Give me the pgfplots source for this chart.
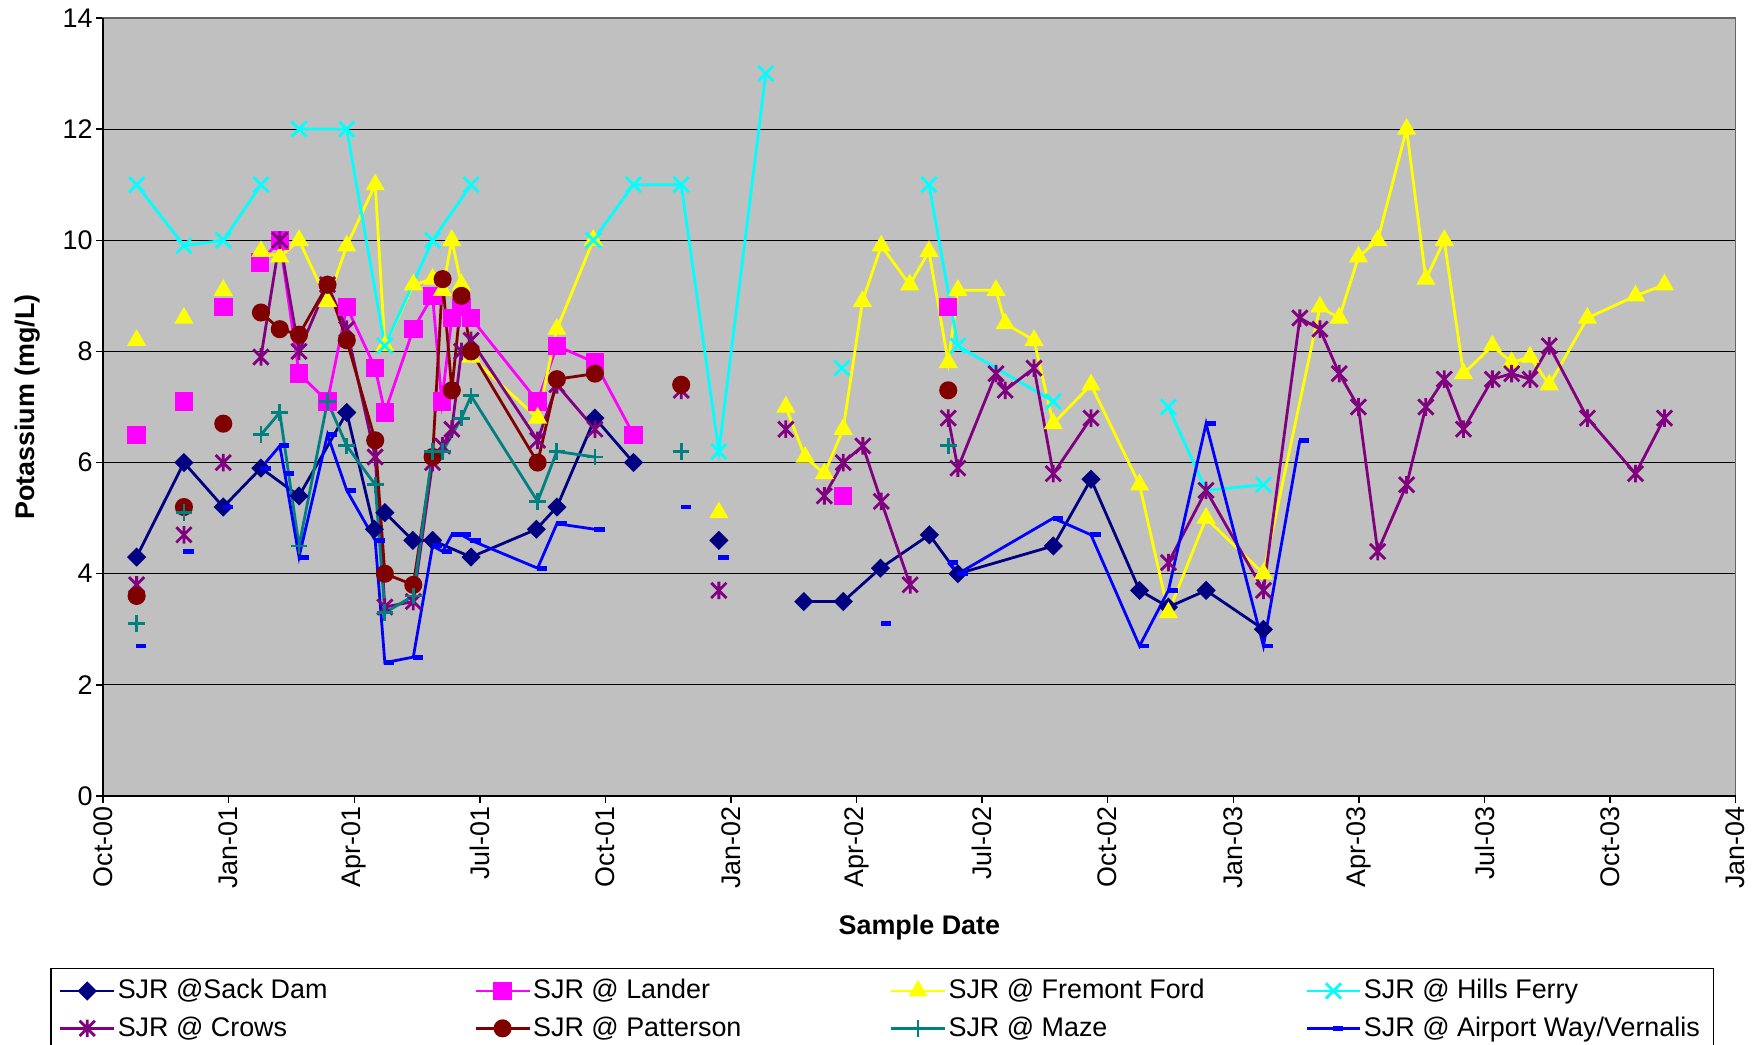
\documentclass[border=0pt]{standalone}
\usepackage{fontspec}
\setmainfont{Liberation Sans}
\usepackage{pgfplots}
\pgfplotsset{compat=1.18}

\definecolor{bggray}{RGB}{192,192,192}
\definecolor{sack}{RGB}{0,0,128}
\definecolor{lander}{RGB}{255,0,255}
\definecolor{fremont}{RGB}{255,255,0}
\definecolor{hills}{RGB}{0,255,255}
\definecolor{crows}{RGB}{128,0,128}
\definecolor{patterson}{RGB}{128,0,0}
\definecolor{maze}{RGB}{0,128,128}
\definecolor{airport}{RGB}{0,0,255}

% Excel style asterisk: an x with a vertical bar
\pgfdeclareplotmark{xast}{%
  \pgfpathmoveto{\pgfqpoint{-\pgfplotmarksize}{-\pgfplotmarksize}}%
  \pgfpathlineto{\pgfqpoint{\pgfplotmarksize}{\pgfplotmarksize}}%
  \pgfpathmoveto{\pgfqpoint{-\pgfplotmarksize}{\pgfplotmarksize}}%
  \pgfpathlineto{\pgfqpoint{\pgfplotmarksize}{-\pgfplotmarksize}}%
  \pgfpathmoveto{\pgfqpoint{0pt}{-1.15\pgfplotmarksize}}%
  \pgfpathlineto{\pgfqpoint{0pt}{1.15\pgfplotmarksize}}%
  \pgfusepathqstroke}
% short bar to the right of the point
\pgfdeclareplotmark{rdash}{%
  \pgfpathrectangle{\pgfqpoint{-0.3pt}{-1.1pt}}{\pgfqpoint{4.6pt}{2.2pt}}%
  \pgfusepathqfill}

\newcommand{\LE}[1]{\makebox[151.5pt][l]{#1}}

\begin{document}
\begin{tikzpicture}[font=\fontsize{12}{14}\selectfont]
\begin{axis}[name=ax,
  scale only axis, width=728pt, height=347pt,
  xmin=0, xmax=39, ymin=0, ymax=14,
  xtick={0,3,...,39},
  xticklabels={Oct-00,Jan-01,Apr-01,Jul-01,Oct-01,Jan-02,Apr-02,Jul-02,Oct-02,Jan-03,Apr-03,Jul-03,Oct-03,Jan-04},
  ytick={0,2,...,14},
  xticklabel style={rotate=90, anchor=east, inner sep=1.5pt},
  yticklabel style={inner sep=1.5pt},
  /pgf/number format/assume math mode=true,
  tick align=outside, tick pos=left, major tick length=3pt,
  tick style={black, line width=0.6pt},
  axis background/.style={fill=bggray},
  ymajorgrids, grid style={black, line width=0.5pt},
  axis line style={draw=gray!80!black, line width=0.8pt},
  xlabel={\bfseries Sample Date}, ylabel={\bfseries Potassium (mg/L)},
  every axis x label/.style={at={(axis description cs:0.5,-0.1685)}, anchor=center},
  every axis y label/.style={at={(axis description cs:-0.0465,0.5)}, rotate=90, anchor=center},
  unbounded coords=jump,
  every axis plot/.append style={line width=1.25pt},
  legend columns=4,
  legend style={at={(axis description cs:-0.0323,-0.2205)}, anchor=north west,
    draw=black, line width=0.6pt, fill=white, inner xsep=3.5pt, inner ysep=4pt,
    nodes={inner sep=1pt}, row sep=4.5pt,
    /tikz/every even column/.append style={column sep=6.5pt}},
  legend image code/.code={\draw[mark repeat=2,mark phase=2,#1] plot coordinates {(0pt,0pt) (12pt,0pt) (24pt,0pt)};},
  after end axis/.code={\draw[black, line width=0.8pt] (rel axis cs:0,1) -- (rel axis cs:0,0) -- (rel axis cs:1,0);},
]
% SJR @Sack Dam
\addplot[color=sack, mark=square*, mark size=2.4pt, mark options={rotate=45}] coordinates {
(0.80,4.3)(1.93,6.0)(2.87,5.2)(3.77,5.9)(4.68,5.4)(5.82,6.9)(6.48,4.8)(6.73,5.1)(7.40,4.6)(7.87,4.6)(8.79,4.3)
(10.35,4.8)(10.84,5.2)(11.75,6.8)(12.67,6.0)(13.5,nan)(14.71,4.6)(15.5,nan)
(16.74,3.5)(17.68,3.5)(18.57,4.1)(19.74,4.7)(20.42,4.0)(22.70,4.5)(23.60,5.7)(24.76,3.7)(25.45,3.4)(26.35,3.7)(27.72,3.0)};
\addlegendentry{\LE{SJR @Sack Dam}}
% SJR @ Lander
\addplot[color=lander, mark=square*, mark size=3.5pt] coordinates {
(0.80,6.5)(1.3,nan)(1.93,7.1)(2.4,nan)(2.87,8.8)(3.3,nan)
(3.75,9.6)(4.22,10.0)(4.68,7.6)(5.36,7.1)(5.82,8.8)(6.50,7.7)(6.73,6.9)(7.41,8.4)(7.87,9.0)(8.09,7.1)(8.33,8.6)(8.56,8.8)(8.79,8.6)
(10.38,7.1)(10.84,8.1)(11.75,7.8)(12.67,6.5)(15,nan)(17.68,5.4)(19,nan)(20.19,8.8)};
\addlegendentry{\LE{SJR @ Lander}}
% SJR @ Fremont Ford
\addplot[color=fremont, mark=triangle*, mark size=3.7pt] coordinates {
(0.80,8.2)(1.3,nan)(1.93,8.6)(2.4,nan)(2.87,9.1)(3.3,nan)
(3.77,9.8)(4.22,9.7)(4.68,10.0)(5.36,8.9)(5.82,9.9)(6.50,11.0)(6.73,8.1)(7.41,9.2)(7.87,9.3)(8.11,9.1)(8.33,10.0)(8.56,9.2)(8.79,7.9)
(10.38,6.8)(10.84,8.4)(11.71,10.0)(13,nan)(14.71,5.1)(15.5,nan)
(16.31,7.0)(16.77,6.1)(17.23,5.8)(17.68,6.6)(18.14,8.9)(18.59,9.9)(19.27,9.2)(19.73,9.8)(20.19,7.8)(20.42,9.1)(21.33,9.1)(21.55,8.5)
(22.24,8.2)(22.70,6.7)(23.60,7.4)(24.76,5.6)(25.45,3.3)(26.35,5.0)(27.72,4.0)(29.07,8.8)(29.53,8.6)(29.99,9.7)(30.45,10.0)(31.14,12.0)
(31.60,9.3)(32.04,10.0)(32.50,7.6)(33.19,8.1)(33.65,7.8)(34.09,7.9)(34.55,7.4)(35.46,8.6)(36.61,9.0)(37.30,9.2)};
\addlegendentry{\LE{SJR @ Fremont Ford}}
% SJR @ Hills Ferry
\addplot[color=hills, mark=x, mark size=4.8pt] coordinates {
(0.80,11.0)(1.93,9.9)(2.87,10.0)(3.77,11.0)(4.2,nan)(4.68,12.0)(5.82,12.0)(6.73,8.1)(7.87,10.0)(8.79,11.0)(10,nan)
(11.71,10.0)(12.67,11.0)(13.81,11.0)(14.71,6.2)(15.83,13.0)(16.5,nan)(17.65,7.7)(18.5,nan)
(19.73,11.0)(20.42,8.1)(22.70,7.1)(24,nan)(25.45,7.0)(26.35,5.5)(27.72,5.6)};
\addlegendentry{\LE{SJR @ Hills Ferry}}
% SJR @ Crows
\addplot[color=crows, mark=xast, mark size=3.4pt] coordinates {
(0.80,3.8)(1.3,nan)(1.93,4.7)(2.4,nan)(2.87,6.0)(3.3,nan)
(3.77,7.9)(4.22,10.0)(4.68,8.0)(5.36,9.2)(5.82,8.4)(6.50,6.1)(6.73,3.4)(7.41,3.5)(7.87,6.0)(8.11,6.3)(8.33,6.6)(8.56,8.0)(8.79,8.2)
(10.38,6.4)(10.84,7.4)(11.75,6.6)(13,nan)(13.81,7.3)(14.3,nan)(14.71,3.7)(15.5,nan)(16.31,6.6)(16.8,nan)
(17.23,5.4)(17.68,6.0)(18.15,6.3)(18.59,5.3)(19.28,3.8)(19.8,nan)
(20.19,6.8)(20.42,5.9)(21.33,7.6)(21.55,7.3)(22.24,7.7)(22.70,5.8)(23.60,6.8)(24.5,nan)
(25.45,4.2)(26.35,5.5)(27.72,3.7)(28.59,8.6)(29.07,8.4)(29.53,7.6)(29.99,7.0)(30.45,4.4)(31.14,5.6)(31.60,7.0)(32.04,7.5)
(32.50,6.6)(33.19,7.5)(33.65,7.6)(34.09,7.5)(34.55,8.1)(35.46,6.8)(36.61,5.8)(37.30,6.8)};
\addlegendentry{\LE{SJR @ Crows}}
% SJR @ Patterson
\addplot[color=patterson, mark=*, mark size=3.4pt] coordinates {
(0.80,3.6)(1.3,nan)(1.93,5.2)(2.4,nan)(2.87,6.7)(3.3,nan)
(3.77,8.7)(4.22,8.4)(4.68,8.3)(5.36,9.2)(5.82,8.2)(6.50,6.4)(6.73,4.0)(7.41,3.8)(7.87,6.1)(8.11,9.3)(8.33,7.3)(8.56,9.0)(8.79,8.0)
(10.38,6.0)(10.84,7.5)(11.75,7.6)(13,nan)(13.81,7.4)(17,nan)(20.19,7.3)};
\addlegendentry{\LE{SJR @ Patterson}}
% SJR @ Maze
\addplot[color=maze, mark=+, mark size=3.7pt] coordinates {
(0.80,3.1)(1.3,nan)(1.93,5.1)(2.4,nan)
(3.77,6.5)(4.22,6.9)(4.68,4.5)(5.36,7.1)(5.82,6.3)(6.50,5.6)(6.73,3.3)(7.41,3.6)(7.87,6.2)(8.11,6.2)(8.56,6.8)(8.79,7.2)
(10.38,5.3)(10.84,6.2)(11.75,6.1)(13,nan)(13.81,6.2)(17,nan)(20.19,6.3)};
\addlegendentry{\LE{SJR @ Maze}}
% SJR @ Airport Way/Vernalis
\addplot[color=airport, mark=rdash] coordinates {
(0.80,2.7)(1.3,nan)(1.93,4.4)(2.4,nan)(2.87,5.2)(3.3,nan)
(3.77,5.9)(4.22,6.3)(4.34,5.8)(4.68,4.3)(5.36,6.5)(5.82,5.5)(6.50,4.6)(6.73,2.4)(7.41,2.5)(7.87,4.5)(8.11,4.4)(8.33,4.7)(8.56,4.7)(8.79,4.6)
(10.38,4.1)(10.84,4.9)(11.75,4.8)(13,nan)(13.81,5.2)(14.3,nan)(14.71,4.3)(16,nan)(18.59,3.1)(19.5,nan)
(20.19,4.2)(20.42,4.0)(22.70,5.0)(23.60,4.7)(24.76,2.7)(25.45,3.7)(26.35,6.7)(27.72,2.7)(28.59,6.4)};
\addlegendentry{\LE{SJR @ Airport Way/Vernalis}}
\end{axis}
\pgfresetboundingbox
\path[use as bounding box] ([xshift=-46pt,yshift=-111pt]ax.south west) rectangle ([xshift=10pt,yshift=8pt]ax.north east);
\end{tikzpicture}
\end{document}
